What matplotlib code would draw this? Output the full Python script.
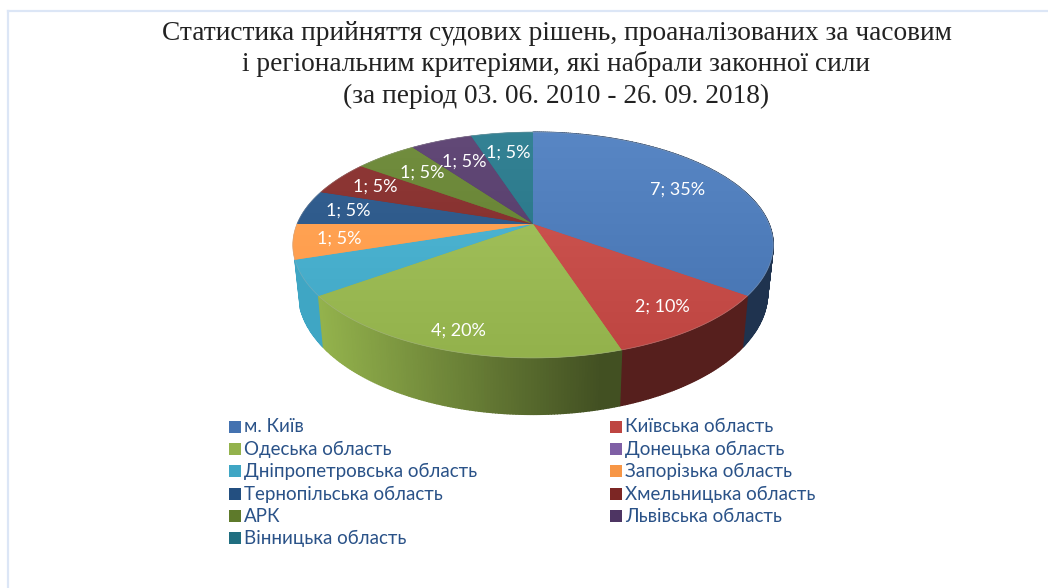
import numpy as np
import matplotlib
matplotlib.use('Agg')
from matplotlib import pyplot as plt
from matplotlib.patches import Polygon, Rectangle

categories = ['м. Київ', 'Київська область', 'Одеська область', 'Донецька область',
              'Дніпропетровська область', 'Запорізька область', 'Тернопільська область',
              'Хмельницька область', 'АРК', 'Львівська область', 'Вінницька область']
values = [7, 2, 4, 0, 1, 1, 1, 1, 1, 1, 1]
shown = [True, True, True, False, False, True, True, True, True, True, True]
colors = ['#4472B0', '#BE4541', '#93B24C', '#7F5FA5', '#3FA6C4', '#F79646',
          '#234F80', '#7C2624', '#5E7A2B', '#4E3563', '#206E80']
title_lines = ['Статистика прийняття судових рішень, проаналізованих за часовим',
               'і регіональним критеріями, які набрали законної сили',
               '(за період 03. 06. 2010 - 26. 09. 2018)']

CX, CY = 533, 224
RX, RY, K = 236, 109, 0.186
DEPTH = 46


def project(theta, r=1.0):
    # clockwise from 12 o'clock, nearer edge drawn bigger
    u, v = r * np.sin(theta), r * np.cos(theta)
    s = 1 / (1 + K * v)
    return CX + RX * u * s, CY - RY * v * s, s


def rim_shade(x):
    return np.clip(1 - 0.55 * (x - 320) / 280, 0.45, 1)


fig = plt.figure(figsize=(10.48, 5.88), dpi=100)
ax = fig.add_axes([0, 0, 1, 1])
ax.set_xlim(0, 1048)
ax.set_ylim(588, 0)
ax.axis('off')

# frame, left and top only
ax.plot([8, 8], [588, 11], color='#DCE6F6', lw=1.6)
ax.plot([8, 1048], [11, 11], color='#DCE6F6', lw=1.6)

for line, y in zip(title_lines, [33, 64, 96]):
    ax.text(556.5, y, line, ha='center', va='center', fontsize=19.7,
            family='Liberation Serif', color='#222222')

total = sum(values)
edges = 2 * np.pi * np.concatenate([[0], np.cumsum(values)]) / total

# side wall, far slices first so the near ones cover them
mids = (edges[:-1] + edges[1:]) / 2
for i in np.argsort(-np.cos(mids)):
    # nothing past the left extreme is visible
    if values[i] == 0 or edges[i] > 1.39 * np.pi:
        continue
    rgb = np.array(matplotlib.colors.to_rgb(colors[i]))
    th = np.linspace(edges[i], edges[i + 1], int(values[i] * 30) + 2)
    for a, b in zip(th[:-1], th[1:]):
        xa, ya, sa = project(a)
        xb, yb, sb = project(b)
        xa2 = CX + (xa - CX) * 0.977
        xb2 = CX + (xb - CX) * 0.977
        quad = [(xa, ya), (xb, yb), (xb2, yb + DEPTH * sb), (xa2, ya + DEPTH * sa)]
        col = rgb * rim_shade((xa + xb) / 2)
        ax.add_patch(Polygon(quad, closed=True, fc=col, ec=col, lw=1.0, zorder=2))

# top face, vertical gradient clipped to each slice
for i, c in enumerate(categories):
    if values[i] == 0:
        continue
    rgb = np.array(matplotlib.colors.to_rgb(colors[i]))
    th = np.linspace(edges[i], edges[i + 1], int(values[i] * 12) + 2)
    xs, ys, _ = project(th)
    poly = Polygon(np.vstack([[CX, CY], np.column_stack([xs, ys])]), closed=True,
                   fc=rgb, ec=rgb, lw=0.4, zorder=3)
    ax.add_patch(poly)
    t = np.linspace(0, 1, 64)[:, None, None]
    grad = np.clip(rgb[None, None, :] + (1 - t) * 0.08, 0, 1)
    im = ax.imshow(grad, extent=[290, 776, 358, 130], aspect='auto', zorder=4,
                   interpolation='bilinear')
    im.set_clip_path(poly)
ax.set_xlim(0, 1048)
ax.set_ylim(588, 0)

th = np.linspace(0, 2 * np.pi, 200)
xs, ys, _ = project(th)
ax.plot(xs, ys, color='#B0B0B0', lw=0.6, alpha=0.35, zorder=5)

# data labels
label_r = [0.73, 0.82, 0.87, 0, 0, 0.81, 0.81, 0.80, 0.73, 0.72, 0.75]
for i, c in enumerate(categories):
    if not shown[i]:
        continue
    x, y, _ = project(mids[i], label_r[i])
    pct = round(100 * values[i] / total)
    ax.text(x, y, '%d; %d%%' % (values[i], pct), color='white', fontsize=13,
            ha='center', va='center', family=['Lato', 'Noto Sans'], zorder=6)

# legend
row_y = [427, 449, 471, 494, 516, 538]
col_x = [229, 610]
for i, c in enumerate(categories):
    x = col_x[i % 2]
    y = row_y[i // 2]
    ax.add_patch(Rectangle((x, y - 6), 12, 12, fc=colors[i], ec='none', zorder=3))
    ax.text(x + 15, y, c, color='#2A5288', fontsize=13.5, ha='left', va='center',
            family=['Lato', 'Noto Sans'])

fig.savefig('out.png', dpi=100)
